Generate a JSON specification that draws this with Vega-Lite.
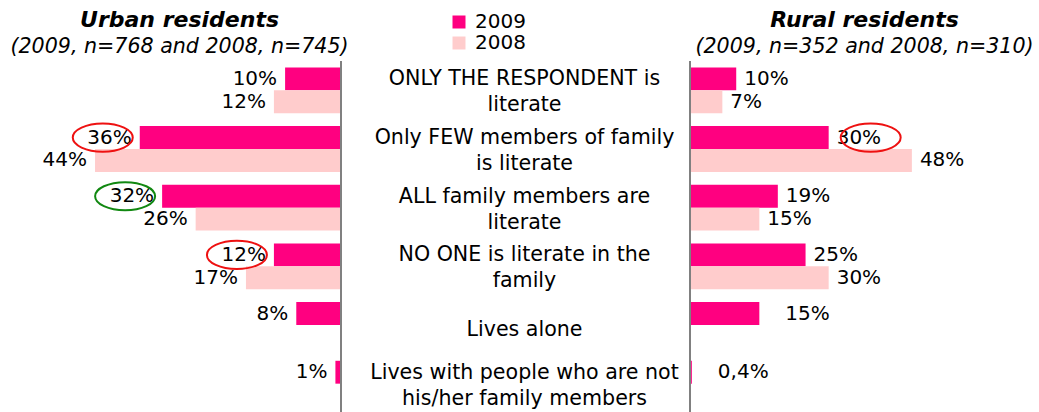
{
  "$schema": "https://vega.github.io/schema/vega-lite/v6.json",
  "padding": {"top": 8, "left": 0, "right": 0, "bottom": 0},
  "autosize": {"type": "pad"},
  "background": "white",
  "bounds": "flush",
  "spacing": 0,
  "config": {
    "view": {"stroke": null},
    "font": "DejaVu Sans",
    "title": {
      "font": "DejaVu Sans",
      "fontSize": 22,
      "fontStyle": "italic",
      "fontWeight": "bold",
      "color": "#000000",
      "subtitleFont": "DejaVu Sans",
      "subtitleFontSize": 20.6,
      "subtitleFontStyle": "italic",
      "subtitleColor": "#000000",
      "subtitlePadding": 5,
      "offset": 1.5,
      "anchor": "middle"
    }
  },
  "datasets": {
    "bars": [
      {"area": "Urban", "cat": "c1", "year": "2009", "value": 10, "label": "10%"},
      {"area": "Urban", "cat": "c1", "year": "2008", "value": 12, "label": "12%"},
      {"area": "Urban", "cat": "c2", "year": "2009", "value": 36, "label": "36%", "change": "down"},
      {"area": "Urban", "cat": "c2", "year": "2008", "value": 44, "label": "44%"},
      {"area": "Urban", "cat": "c3", "year": "2009", "value": 32, "label": "32%", "change": "up"},
      {"area": "Urban", "cat": "c3", "year": "2008", "value": 26, "label": "26%"},
      {"area": "Urban", "cat": "c4", "year": "2009", "value": 12, "label": "12%", "change": "down"},
      {"area": "Urban", "cat": "c4", "year": "2008", "value": 17, "label": "17%"},
      {"area": "Urban", "cat": "c5", "year": "2009", "value": 8, "label": "8%"},
      {"area": "Urban", "cat": "c6", "year": "2009", "value": 1, "label": "1%"},
      {"area": "Rural", "cat": "c1", "year": "2009", "value": 10, "label": "10%"},
      {"area": "Rural", "cat": "c1", "year": "2008", "value": 7, "label": "7%"},
      {"area": "Rural", "cat": "c2", "year": "2009", "value": 30, "label": "30%", "change": "down"},
      {"area": "Rural", "cat": "c2", "year": "2008", "value": 48, "label": "48%"},
      {"area": "Rural", "cat": "c3", "year": "2009", "value": 19, "label": "19%"},
      {"area": "Rural", "cat": "c3", "year": "2008", "value": 15, "label": "15%"},
      {"area": "Rural", "cat": "c4", "year": "2009", "value": 25, "label": "25%"},
      {"area": "Rural", "cat": "c4", "year": "2008", "value": 30, "label": "30%"},
      {"area": "Rural", "cat": "c5", "year": "2009", "value": 15, "label": "15%"},
      {"area": "Rural", "cat": "c6", "year": "2009", "value": 0.4, "label": "0,4%"}
    ],
    "cats": [
      {"cat": "c1", "lines": 2, "text": "ONLY THE RESPONDENT is\nliterate"},
      {"cat": "c2", "lines": 2, "text": "Only FEW members of family\nis literate"},
      {"cat": "c3", "lines": 2, "text": "ALL family members are\nliterate"},
      {"cat": "c4", "lines": 2, "text": "NO ONE is literate in the\nfamily"},
      {"cat": "c5", "lines": 1, "text": "Lives alone"},
      {"cat": "c6", "lines": 2, "text": "Lives with people who are not\nhis/her family members"}
    ]
  },
  "resolve": {"scale": {"x": "independent", "y": "shared", "color": "shared", "stroke": "shared"}},
  "hconcat": [
    {
      "width": 341,
      "height": 352,
      "title": {"text": "Urban residents", "subtitle": "(2009, n=768 and 2008, n=745)", "dx": 9},
      "layer": [
        {
          "data": {"name": "bars"},
          "transform": [{"filter": "datum.area === 'Urban'"}],
          "mark": {"type": "bar"},
          "encoding": {
            "y": {"field": "cat", "type": "nominal", "axis": null, "scale": {"domain": ["c1", "c2", "c3", "c4", "c5", "c6"], "paddingInner": 0.22, "paddingOuter": 0.11}},
            "yOffset": {"field": "year", "type": "nominal", "scale": {"domain": ["2009", "2008"], "paddingInner": 0, "paddingOuter": 0}},
            "x": {"field": "value", "type": "quantitative", "axis": null, "scale": {"domain": [0, 61], "reverse": true, "nice": false}},
            "color": {
              "field": "year", "type": "nominal",
              "scale": {"domain": ["2009", "2008"], "range": ["#FF0080", "#FFCCCC"]},
              "legend": {"orient": "none", "legendX": 449, "legendY": -49, "title": null, "symbolType": "square", "symbolSize": 169, "symbolStrokeWidth": 0, "labelFontSize": 20, "labelFont": "DejaVu Sans", "labelColor": "#000000", "labelOffset": 6, "rowPadding": 1}
            }
          }
        },
        {
          "data": {"name": "bars"},
          "transform": [{"filter": "datum.area === 'Urban'"}],
          "mark": {"type": "text", "align": "right", "baseline": "middle", "dx": -8, "fontSize": 20, "color": "#000000"},
          "encoding": {
            "y": {"field": "cat", "type": "nominal"},
            "yOffset": {"field": "year", "type": "nominal"},
            "x": {"field": "value", "type": "quantitative"},
            "text": {"field": "label"}
          }
        },
        {
          "data": {"name": "bars"},
          "transform": [{"filter": "datum.area === 'Urban' && datum.change"}],
          "mark": {"type": "point", "shape": "M-1,0A1,0.47,0,1,1,1,0A1,0.47,0,1,1,-1,0Z", "size": 3600, "strokeWidth": 2, "filled": false, "opacity": 1, "xOffset": -37},
          "encoding": {
            "y": {"field": "cat", "type": "nominal"},
            "yOffset": {"field": "year", "type": "nominal"},
            "x": {"field": "value", "type": "quantitative"},
            "stroke": {"field": "change", "type": "nominal", "scale": {"domain": ["down", "up"], "range": ["#EE1111", "#118811"]}, "legend": null}
          }
        },
        {
          "data": {"values": [{}]},
          "mark": {"type": "rule", "color": "#808080", "strokeWidth": 2},
          "encoding": {"x": {"datum": 0, "type": "quantitative"}}
        }
      ]
    },
    {
      "width": 349,
      "height": 352,
      "data": {"name": "cats"},
      "layer": [
        {
          "transform": [{"filter": "datum.lines === 2"}],
          "mark": {"type": "text", "align": "center", "baseline": "middle", "dx": 9, "dy": -11, "fontSize": 20.6, "lineBreak": "\n", "lineHeight": 26, "color": "#000000"},
          "encoding": {
            "y": {"field": "cat", "type": "nominal", "axis": null},
            "text": {"field": "text"}
          }
        },
        {
          "transform": [{"filter": "datum.lines === 1"}],
          "mark": {"type": "text", "align": "center", "baseline": "middle", "dx": 9, "dy": 5, "fontSize": 20.6, "color": "#000000"},
          "encoding": {
            "y": {"field": "cat", "type": "nominal", "axis": null},
            "text": {"field": "text"}
          }
        }
      ]
    },
    {
      "width": 349,
      "height": 352,
      "title": {"text": "Rural residents", "subtitle": "(2009, n=352 and 2008, n=310)"},
      "layer": [
        {
          "data": {"name": "bars"},
          "transform": [{"filter": "datum.area === 'Rural'"}],
          "mark": {"type": "bar"},
          "encoding": {
            "y": {"field": "cat", "type": "nominal", "axis": null},
            "yOffset": {"field": "year", "type": "nominal", "scale": {"domain": ["2009", "2008"], "paddingInner": 0, "paddingOuter": 0}},
            "x": {"field": "value", "type": "quantitative", "axis": null, "scale": {"domain": [0, 75.5], "nice": false}},
            "color": {"field": "year", "type": "nominal"}
          }
        },
        {
          "data": {"name": "bars"},
          "transform": [{"filter": "datum.area === 'Rural' && datum.cat !== 'c5' && datum.cat !== 'c6'"}],
          "mark": {"type": "text", "align": "left", "baseline": "middle", "dx": 8, "fontSize": 20, "color": "#000000"},
          "encoding": {
            "y": {"field": "cat", "type": "nominal"},
            "yOffset": {"field": "year", "type": "nominal"},
            "x": {"field": "value", "type": "quantitative"},
            "text": {"field": "label"}
          }
        },
        {
          "data": {"name": "bars"},
          "transform": [{"filter": "datum.area === 'Rural' && (datum.cat === 'c5' || datum.cat === 'c6')"}],
          "mark": {"type": "text", "align": "left", "baseline": "middle", "dx": 26, "fontSize": 20, "color": "#000000"},
          "encoding": {
            "y": {"field": "cat", "type": "nominal"},
            "yOffset": {"field": "year", "type": "nominal"},
            "x": {"field": "value", "type": "quantitative"},
            "text": {"field": "label"}
          }
        },
        {
          "data": {"name": "bars"},
          "transform": [{"filter": "datum.area === 'Rural' && datum.change"}],
          "mark": {"type": "point", "shape": "M-1,0A1,0.47,0,1,1,1,0A1,0.47,0,1,1,-1,0Z", "size": 3600, "strokeWidth": 2, "filled": false, "opacity": 1, "xOffset": 42},
          "encoding": {
            "y": {"field": "cat", "type": "nominal"},
            "yOffset": {"field": "year", "type": "nominal"},
            "x": {"field": "value", "type": "quantitative"},
            "stroke": {"field": "change", "type": "nominal", "legend": null}
          }
        },
        {
          "data": {"values": [{}]},
          "mark": {"type": "rule", "color": "#808080", "strokeWidth": 2},
          "encoding": {"x": {"datum": 0, "type": "quantitative"}}
        }
      ]
    }
  ]
}
